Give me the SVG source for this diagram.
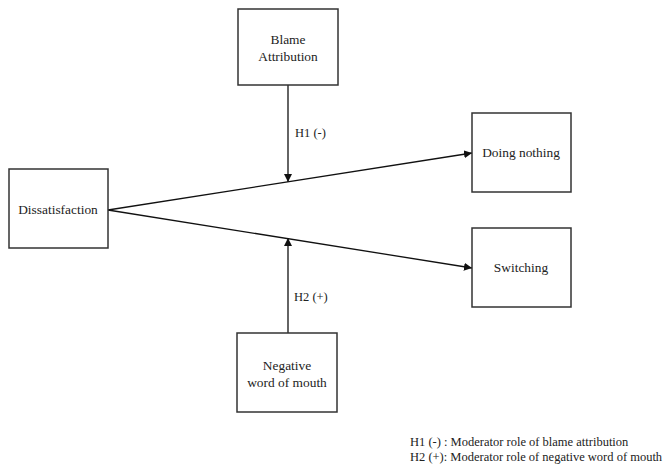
<svg xmlns="http://www.w3.org/2000/svg" width="667" height="466" viewBox="0 0 667 466">
<style>
.box{fill:#fff;stroke:#333;stroke-width:1.5}
.t{font-family:'Liberation Serif','Times New Roman','DejaVu Serif',serif;font-size:13.4px;fill:#222;text-anchor:middle}
.l{font-family:'Liberation Serif','Times New Roman','DejaVu Serif',serif;font-size:12.5px;fill:#222}
.c{stroke:#111;stroke-width:1.3;fill:none;marker-end:url(#ah)}
</style>
<defs>
<marker id="ah" viewBox="0 0 10 10" refX="10" refY="5" markerWidth="8" markerHeight="8" markerUnits="userSpaceOnUse" orient="auto">
<path d="M0,0 L10,5 L0,10 z" fill="#111"/>
</marker>
</defs>
<rect width="667" height="466" fill="#fff"/>
<g id="connectors">
<path class="c" d="M108,210 L472,153"/>
<path class="c" d="M108,210 L472,268"/>
<path class="c" d="M288,85 L288,182"/>
<path class="c" d="M288,333 L288,238"/>
</g>
<g id="blame">
<rect class="box" x="238" y="9" width="100" height="76"/>
<text class="t" x="288" y="44">Blame</text>
<text class="t" x="288" y="61">Attribution</text>
</g>
<g id="dissatisfaction">
<rect class="box" x="9" y="169" width="99" height="79"/>
<text class="t" x="58" y="214">Dissatisfaction</text>
</g>
<g id="doing-nothing">
<rect class="box" x="472" y="113" width="99" height="79"/>
<text class="t" x="521" y="157">Doing nothing</text>
</g>
<g id="switching">
<rect class="box" x="472" y="228" width="99" height="79"/>
<text class="t" x="521" y="272">Switching</text>
</g>
<g id="negative">
<rect class="box" x="237" y="333" width="100" height="79"/>
<text class="t" x="287" y="370">Negative</text>
<text class="t" x="287" y="387">word of mouth</text>
</g>
<g id="labels">
<text class="l" x="295" y="137">H1 (-)</text>
<text class="l" x="294" y="301">H2 (+)</text>
<text class="l" x="410" y="446">H1 (-) : Moderator role of blame attribution</text>
<text class="l" x="410" y="461">H2 (+): Moderator role of negative word of mouth</text>
</g>
</svg>
